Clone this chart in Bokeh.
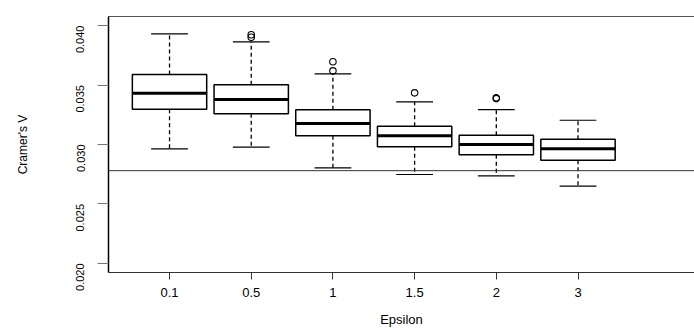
import numpy as np
from bokeh.plotting import figure
from bokeh.models import Range1d, FixedTicker, LinearAxis, Span, ColumnDataSource, NumeralTickFormatter
from bokeh.embed import file_html
from bokeh.resources import INLINE
import math

categories = ["0.1", "0.5", "1", "1.5", "2", "3"]
upper_whisker = [0.03930, 0.03863, 0.03594, 0.03359, 0.03294, 0.03204]
q3 = [0.03588, 0.03502, 0.03292, 0.03154, 0.03078, 0.03045]
median = [0.03431, 0.03378, 0.03177, 0.03073, 0.03000, 0.02964]
q1 = [0.03297, 0.03258, 0.03073, 0.02981, 0.02913, 0.02868]
lower_whisker = [0.02964, 0.02978, 0.02804, 0.02748, 0.02737, 0.02650]
outlier_group = ["0.5", "0.5", "1", "1", "1.5", "2", "2"]
outlier_value = [0.03922, 0.03902, 0.03695, 0.03619, 0.03434, 0.03392, 0.03386]
reference_value = [0.0278]
y_ticks = [0.020, 0.025, 0.030, 0.035, 0.040]

xpos = list(range(1, len(categories) + 1))
box_w = 0.91
cap_w = 0.45
src = ColumnDataSource(dict(
    x=xpos, up=upper_whisker, q3=q3, med=median, q1=q1, lo=lower_whisker,
    xl=[x - box_w / 2 for x in xpos], xr=[x + box_w / 2 for x in xpos],
    cl=[x - cap_w / 2 for x in xpos], cr=[x + cap_w / 2 for x in xpos],
))
ox = [xpos[categories.index(g)] for g in outlier_group]

p = figure(width=694, height=330, output_backend="svg", toolbar_location=None,
           x_range=Range1d(0.253, 7.426), y_range=Range1d(0.01924, 0.04076),
           min_border_left=108, min_border_right=0, min_border_top=16, min_border_bottom=58,
           x_axis_label="Epsilon", y_axis_label="Cramer's V")
p.outline_line_color = None
p.grid.visible = False
p.background_fill_color = "white"

FONT = "Liberation Sans"

# whiskers
p.segment(x0="x", x1="x", y0="q3", y1="up", source=src, line_color="black", line_width=1.3, line_dash="4 3")
p.segment(x0="x", x1="x", y0="q1", y1="lo", source=src, line_color="black", line_width=1.3, line_dash="4 3")
p.segment(x0="cl", x1="cr", y0="up", y1="up", source=src, line_color="black", line_width=1.2)
p.segment(x0="cl", x1="cr", y0="lo", y1="lo", source=src, line_color="black", line_width=1.2)
# boxes
p.vbar(x="x", width=box_w, top="q3", bottom="q1", source=src, fill_color="white", line_color="black", line_width=1.5)
p.segment(x0="xl", x1="xr", y0="med", y1="med", source=src, line_color="black", line_width=3)
# outliers
p.scatter(ox, outlier_value, marker="circle", size=6.5, fill_color=None, line_color="black", line_width=1.1)

p.add_layout(Span(location=reference_value[0], dimension="width", line_color="#333333", line_width=1))

# x axis
xa = p.xaxis[0]
xa.ticker = FixedTicker(ticks=xpos)
xa.major_label_overrides = {x: c for x, c in zip(xpos, categories)}
xa.major_tick_in = 0
xa.major_tick_out = 7
xa.minor_tick_line_color = None
xa.axis_line_color = "#333333"
xa.major_tick_line_color = "#333333"
xa.major_label_text_font = FONT
xa.major_label_text_font_size = "13px"
xa.major_label_text_color = "black"
xa.major_label_standoff = 8
xa.axis_label_text_font = FONT
xa.axis_label_text_font_size = "13px"
xa.axis_label_text_font_style = "normal"
xa.axis_label_text_color = "black"
xa.axis_label_standoff = 12

# y axis
ya = p.yaxis[0]
ya.ticker = FixedTicker(ticks=y_ticks)
ya.formatter = NumeralTickFormatter(format="0.000")
ya.major_label_orientation = math.pi / 2
ya.major_tick_in = 0
ya.major_tick_out = 11
ya.minor_tick_line_color = None
ya.axis_line_color = "black"
ya.axis_line_width = 1.5
ya.major_tick_line_color = "#777777"
ya.major_label_text_font = FONT
ya.major_label_text_font_size = "11px"
ya.major_label_text_color = "black"
ya.major_label_standoff = 17
ya.axis_label_text_font = FONT
ya.axis_label_text_font_size = "12px"
ya.axis_label_text_font_style = "normal"
ya.axis_label_text_color = "black"
ya.axis_label_standoff = 40

# top frame line
top = LinearAxis(ticker=FixedTicker(ticks=[]), major_label_text_font_size="0px",
                 major_tick_line_color=None, minor_tick_line_color=None,
                 axis_line_color="#555555", axis_line_width=1)
p.add_layout(top, "above")

open("out.html", "w").write(file_html(p, INLINE))
